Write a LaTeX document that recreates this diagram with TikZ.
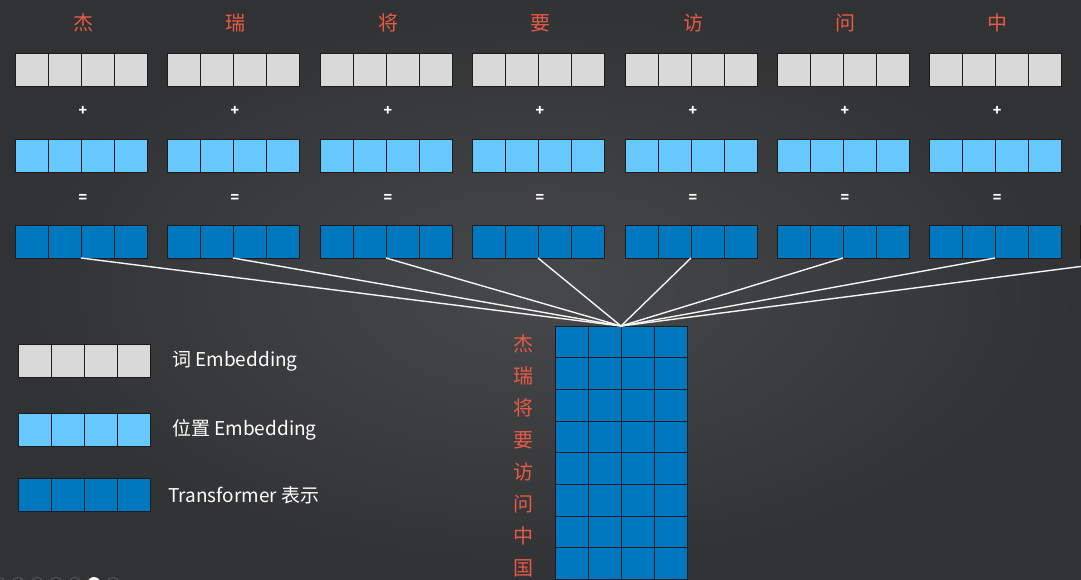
\documentclass[tikz,border=0pt]{standalone}
\usepackage{fontspec}
\setmainfont{Noto Sans CJK SC}
\usepackage{tikz}
\usetikzlibrary{positioning}

\definecolor{bgin}{HTML}{47484A}
\definecolor{bgout}{HTML}{313234}
\definecolor{wordgray}{HTML}{D9D9D9}
\definecolor{posblue}{HTML}{66C8FF}
\definecolor{repblue}{HTML}{0078C0}
\definecolor{cellline}{HTML}{1C1C1C}
\definecolor{tokred}{HTML}{E85A47}
\definecolor{navgray}{HTML}{5A5B5D}

\tikzset{
  cell/.style={draw=cellline, line width=0.9pt, minimum width=33pt, minimum height=33pt, inner sep=0pt, outer sep=0pt},
  wordcell/.style={cell, fill=wordgray},
  poscell/.style={cell, fill=posblue},
  repcell/.style={cell, fill=repblue},
  tok/.style={text=tokred, font=\fontsize{20}{20}\selectfont, inner sep=0pt},
  op/.style={text=white, font=\fontsize{14}{14}\selectfont\bfseries, inner sep=0pt},
  legend/.style={text=white, font=\fontsize{19}{19}\selectfont, anchor=west, inner sep=0pt},
  link/.style={draw=white!92!gray, line width=1.4pt},
  navdot/.style={circle, draw=navgray, line width=0.8pt, minimum size=13pt, inner sep=0pt},
}

\begin{document}
\begin{tikzpicture}[x=1pt, y=-1pt]
  \useasboundingbox (0,0) rectangle (1081,579);
  \shade[inner color=bgin, outer color=bgout] (0,0) rectangle (1081,579);
  \clip (0,0) rectangle (1081,579);

  % token columns: word + position = representation
  \foreach \i/\x/\t in {1/15/杰, 2/167/瑞, 3/320/将, 4/472/要, 5/625/访, 6/777/问, 7/929/中} {
    \node[tok] (t-\i) at (\x+68, 23) {\t};
    \foreach \k in {1,...,4} {
      \node[wordcell] (w-\i-\k) at (\x+33*\k-16.5, 69.5) {};
      \node[poscell] (p-\i-\k) at (\x+33*\k-16.5, 156) {};
      \node[repcell] (r-\i-\k) at (\x+33*\k-16.5, 241.5) {};
    }
    \node[op] (plus-\i) at (\x+68, 111) {+};
    \node[op] (eq-\i) at (\x+68, 198) {=};
  }
  % cut off at the right edge
  \foreach \k in {1,...,4}
    \node[repcell] (r-8-\k) at (1080+33*\k-16.5, 241.5) {};

  % sentence matrix
  \foreach \t [count=\j] in {杰,瑞,将,要,访,问,中,国} {
    \node[tok] (v-\j) at (523, 344+32*\j-32) {\t};
    \foreach \k in {1,...,4}
      \node[repcell, minimum height=31.7pt] (m-\j-\k) at (555+33*\k-16.5, 326+31.7*\j-15.85) {};
  }
  \coordinate (apex) at (m-1-2.north east);

  \foreach \i in {1,...,8}
    \draw[link] (r-\i-2.south east) -- (apex);

  % legend
  \foreach \k in {1,...,4} {
    \node[wordcell] (lw-\k) at (18+33*\k-16.5, 361) {};
    \node[poscell] (lp-\k) at (18+33*\k-16.5, 430) {};
    \node[repcell] (lr-\k) at (18+33*\k-16.5, 495) {};
  }
  \node[legend] (lw-text) at (172, 361) {词 Embedding};
  \node[legend] (lp-text) at (172, 430) {位置 Embedding};
  \node[legend] (lr-text) at (168, 495) {Transformer 表示};

  % slide dots
  \foreach \d in {0,...,6}
    \node[navdot] (nav-\d) at (-1+19*\d, 584) {};
  \node[navdot, fill=white, draw=white] at (nav-5) {};
\end{tikzpicture}
\end{document}
